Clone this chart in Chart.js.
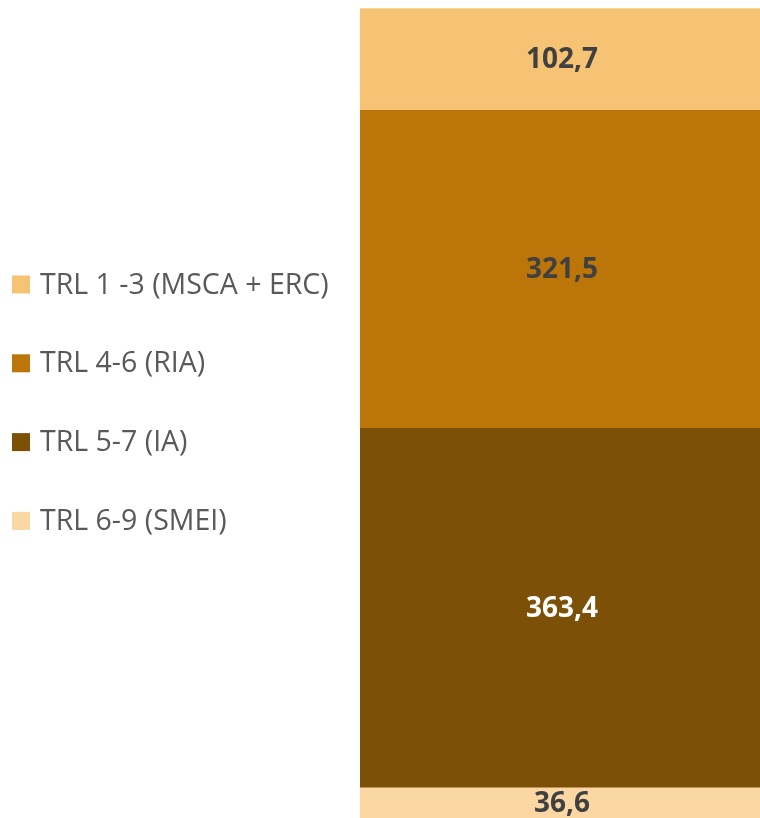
<!DOCTYPE html>
<html lang="en">
<head>
  <meta charset="UTF-8" />
  <title>TRL budget</title>
  <script src="https://cdn.jsdelivr.net/npm/chart.js"></script>
  <style>
    body {
      margin: 0;
      background-color: #ffffff;
    }
    .wrap {
      width: 760px;
      height: 818px;
      position: relative;
    }
  </style>
</head>
<body>
  <div class="wrap">
    <canvas id="trlChart"></canvas>
  </div>

  <script>
    // data, bottom of the stack first
    const categories = ['Total'];
    const seriesLabels = ['TRL 6-9 (SMEI)', 'TRL 5-7 (IA)', 'TRL 4-6 (RIA)', 'TRL 1 -3 (MSCA + ERC)'];
    const seriesValues = [36.6, 363.4, 321.5, 102.7];
    const seriesColors = ['#FAD7A3', '#7C5006', '#BC7509', '#F6C374'];
    const labelColors = ['#404040', '#ffffff', '#404040', '#404040'];

    // value labels in the middle of each visible segment
    const valueLabels = {
      id: 'valueLabels',
      afterDatasetsDraw(chart) {
        const ctx = chart.ctx;
        const area = chart.chartArea;
        ctx.save();
        ctx.font = 'bold 28px "Open Sans"';
        ctx.textAlign = 'center';
        ctx.textBaseline = 'middle';
        chart.data.datasets.forEach((ds, i) => {
          const bar = chart.getDatasetMeta(i).data[0];
          const p = bar.getProps(['x', 'y', 'base'], true);
          const top = Math.max(p.y, area.top);
          const bottom = Math.min(p.base, area.bottom);
          ctx.fillStyle = labelColors[i];
          ctx.fillText(ds.data[0].toFixed(1).replace('.', ','), p.x + 2, (top + bottom) / 2 + 1);
        });
        ctx.restore();
      }
    };

    // legend on the left, top series first
    const sideLegend = {
      id: 'sideLegend',
      afterDraw(chart) {
        const ctx = chart.ctx;
        ctx.save();
        ctx.font = '28.5px "Open Sans"';
        ctx.textBaseline = 'middle';
        const items = chart.data.datasets.slice().reverse();
        items.forEach((ds, i) => {
          const cy = 284.5 + i * 78.8;
          ctx.fillStyle = ds.backgroundColor;
          ctx.fillRect(12, cy - 9, 18, 18);
          ctx.fillStyle = '#595959';
          ctx.fillText(ds.label, 40, cy + 1);
        });
        ctx.restore();
      }
    };

    new Chart(document.getElementById('trlChart'), {
      type: 'bar',
      data: {
        labels: categories,
        datasets: seriesLabels.map((label, i) => ({
          label: label,
          data: [seriesValues[i]],
          backgroundColor: seriesColors[i],
          borderWidth: 0,
          barPercentage: 1,
          categoryPercentage: 1
        }))
      },
      options: {
        responsive: true,
        maintainAspectRatio: false,
        animation: false,
        layout: { padding: { left: 360, right: 0, top: 0, bottom: 0 } },
        plugins: {
          legend: { display: false },
          tooltip: { enabled: false }
        },
        scales: {
          x: { stacked: true, display: false },
          y: { stacked: true, display: false, min: 6, max: 833 }
        }
      },
      plugins: [valueLabels, sideLegend]
    });
  </script>
</body>
</html>
